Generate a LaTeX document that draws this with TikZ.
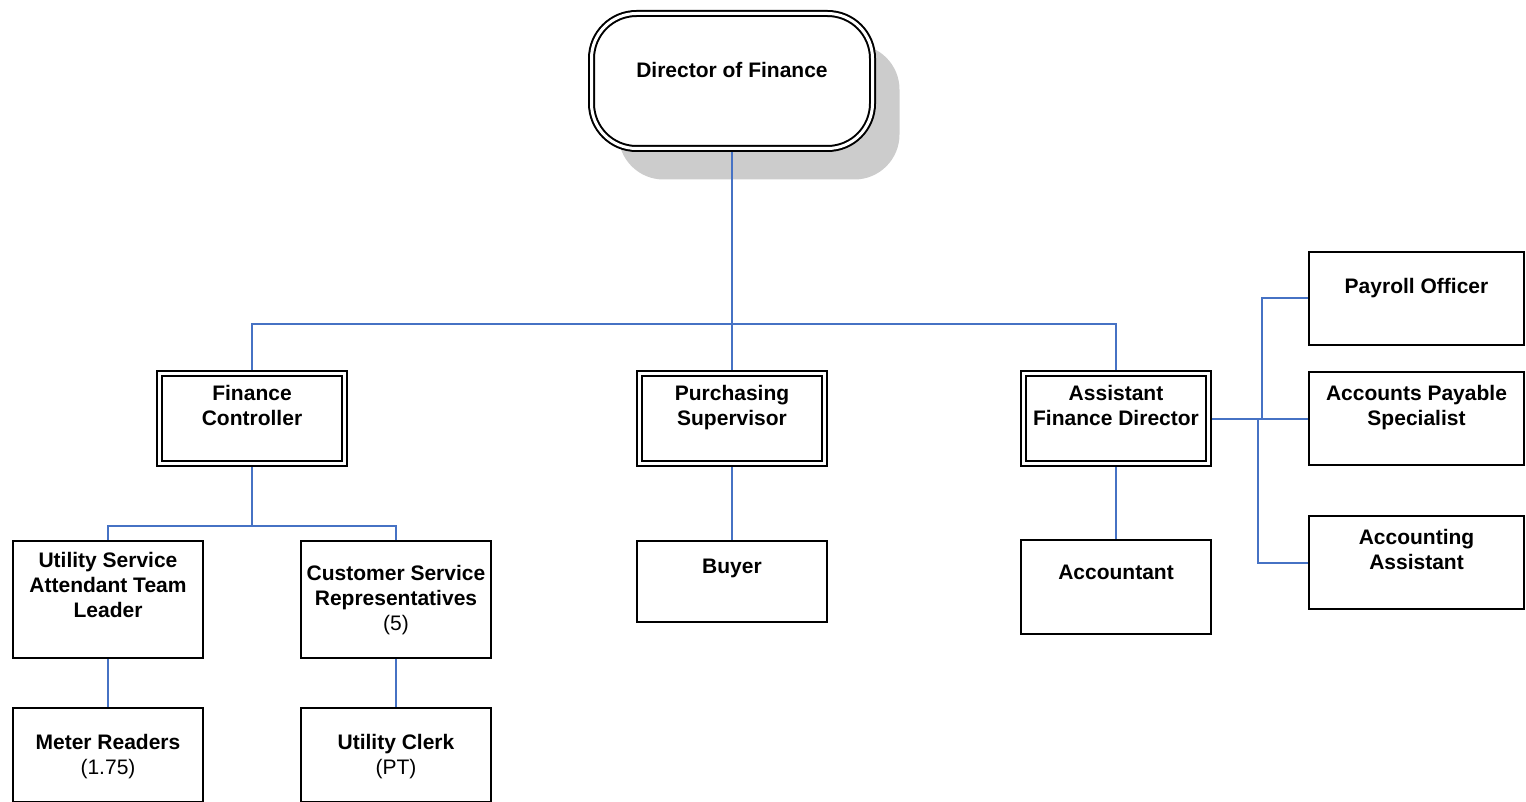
\documentclass[tikz,border=0pt]{standalone}
\usepackage{fontspec}
\setmainfont{Liberation Sans}
\usepackage{tikz}
\usetikzlibrary{positioning,shadows}
\definecolor{linkblue}{RGB}{70,114,196}

\begin{document}
\begin{tikzpicture}[x=1pt, y=-1pt, font=\fontsize{21}{25}\selectfont\bfseries,
box/.style={draw,line width=2pt,inner sep=0pt,minimum width=190pt,minimum height=94pt},
sidebox/.style={box,minimum width=215pt,minimum height=93pt},
head/.style={draw,line width=2pt,double,double distance=3pt,outer sep=3.5pt,fill=white,inner sep=0pt,minimum width=185pt,minimum height=90pt},
top/.style={head,rounded corners=45pt,minimum width=281pt,minimum height=135pt,
  drop shadow={shadow xshift=27pt,shadow yshift=-31pt,fill=black!20,opacity=1}},
txt/.style={align=center,inner sep=0pt},
link/.style={draw=linkblue,line width=2pt}]
\useasboundingbox (0,0) rectangle (1526,802);
\node[top] (dir) at (732,81) {};
\node[txt,below=52pt of dir.north] (dir-t) {Director of Finance};
\node[head] (fc) at (252,418.5) {};
\node[txt,below=15pt of fc.north] (fc-t) {Finance\\Controller};
\node[head] (ps) at (732,418.5) {};
\node[txt,below=15pt of ps.north] (ps-t) {Purchasing\\Supervisor};
\node[head] (afd) at (1116,418.5) {};
\node[txt,below=15pt of afd.north] (afd-t) {Assistant\\Finance Director};
\node[box,minimum height=117pt] (usatl) at (108,599.5) {};
\node[txt,below=12pt of usatl.north] (usatl-t) {Utility Service\\Attendant Team\\Leader};
\node[box,minimum height=117pt] (csr) at (396,599.5) {};
\node[txt,below=25pt of csr.north] (csr-t) {Customer Service\\Representatives\\{\mdseries (5)}};
\node[box] (mr) at (108,755) {};
\node[txt,below=27pt of mr.north] (mr-t) {Meter Readers\\{\mdseries (1.75)}};
\node[box] (uc) at (396,755) {};
\node[txt,below=27pt of uc.north] (uc-t) {Utility Clerk\\{\mdseries (PT)}};
\node[box,minimum height=81pt] (buyer) at (732,581.5) {};
\node[txt,below=19pt of buyer.north] (buyer-t) {Buyer};
\node[box] (acct) at (1116,587) {};
\node[txt,below=26pt of acct.north] (acct-t) {Accountant};
\node[sidebox] (po) at (1416.5,298.5) {};
\node[txt,below=27pt of po.north] (po-t) {Payroll Officer};
\node[sidebox] (aps) at (1416.5,418.5) {};
\node[txt,below=14pt of aps.north] (aps-t) {Accounts Payable\\Specialist};
\node[sidebox] (aa) at (1416.5,562.5) {};
\node[txt,below=14pt of aa.north] (aa-t) {Accounting\\Assistant};
\coordinate (top-bus) at (732,324);
\coordinate (fc-bus) at (252,526);
\coordinate (afd-j1) at (1262,418.5);
\coordinate (afd-j2) at (1258,418.5);
\draw[link] (dir.south) -- (ps.north);
\draw[link] (fc.north) |- (top-bus) -| (afd.north);
\draw[link] (fc.south) -- (fc-bus);
\draw[link] (usatl.north) |- (fc-bus) -| (csr.north);
\draw[link] (usatl) -- (mr);
\draw[link] (csr) -- (uc);
\draw[link] (ps) -- (buyer);
\draw[link] (afd) -- (acct);
\draw[link] (afd.east) -- (aps.west);
\draw[link] (afd-j1) |- (po.west);
\draw[link] (afd-j2) |- (aa.west);
\end{tikzpicture}
\end{document}
